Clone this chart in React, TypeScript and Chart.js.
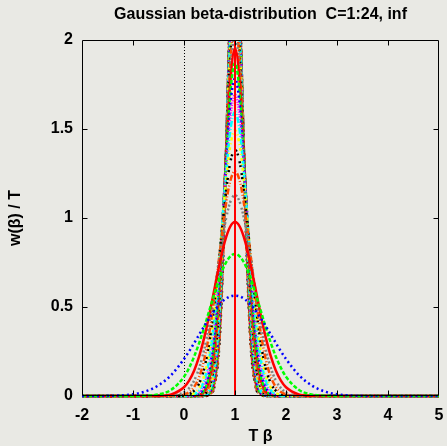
import React, { useEffect, useRef } from "react";
import { Chart, registerables } from "chart.js";

Chart.register(...registerables);

// ---------------- data ----------------
const TITLE = "Gaussian beta-distribution  C=1:24, inf";
const X_TITLE = "T β";
const Y_TITLE = "w(β) / T";
const X_MIN = -2;
const X_MAX = 5;
const Y_MIN = 0;
const Y_MAX = 2;
const X_TICK_VALUES = [-2, -1, 0, 1, 2, 3, 4, 5];
const Y_TICK_VALUES = [0, 0.5, 1, 1.5, 2];
const ZERO_LINE_X = 0;

// sample positions (T beta)
const betaT = [-2, -1.5, -1, -0.75, -0.5, -0.25, 0, 0.1, 0.2, 0.3, 0.4, 0.5, 0.6, 0.7, 0.8, 0.9, 1, 1.1, 1.2, 1.3, 1.4, 1.5, 1.6, 1.7, 1.8, 1.9, 2, 2.25, 2.5, 2.75, 3, 3.5, 4, 5];

// w(beta)/T for C = 1 ... 24
const w_C1 = [0, 0.001, 0.010, 0.026, 0.060, 0.118, 0.208, 0.251, 0.298, 0.346, 0.394, 0.439, 0.481, 0.516, 0.542, 0.559, 0.564, 0.559, 0.542, 0.516, 0.481, 0.439, 0.394, 0.346, 0.298, 0.251, 0.208, 0.118, 0.060, 0.026, 0.010, 0.001, 0, 0];
const w_C2 = [0, 0, 0, 0.002, 0.009, 0.035, 0.108, 0.158, 0.222, 0.300, 0.388, 0.484, 0.579, 0.667, 0.737, 0.782, 0.798, 0.782, 0.737, 0.667, 0.579, 0.484, 0.388, 0.300, 0.222, 0.158, 0.108, 0.035, 0.009, 0.002, 0, 0, 0, 0];
const w_C3 = [0, 0, 0, 0, 0.001, 0.009, 0.049, 0.086, 0.143, 0.225, 0.332, 0.462, 0.605, 0.746, 0.867, 0.948, 0.977, 0.948, 0.867, 0.746, 0.605, 0.462, 0.332, 0.225, 0.143, 0.086, 0.049, 0.009, 0.001, 0, 0, 0, 0, 0];
const w_C4 = [0, 0, 0, 0, 0, 0.002, 0.021, 0.044, 0.087, 0.159, 0.267, 0.415, 0.595, 0.787, 0.962, 1.084, 1.128, 1.084, 0.962, 0.787, 0.595, 0.415, 0.267, 0.159, 0.087, 0.044, 0.021, 0.002, 0, 0, 0, 0, 0, 0];
const w_C5 = [0, 0, 0, 0, 0, 0.001, 0.009, 0.022, 0.051, 0.109, 0.209, 0.362, 0.567, 0.804, 1.033, 1.200, 1.262, 1.200, 1.033, 0.804, 0.567, 0.362, 0.209, 0.109, 0.051, 0.022, 0.009, 0.001, 0, 0, 0, 0, 0, 0];
const w_C6 = [0, 0, 0, 0, 0, 0, 0.003, 0.011, 0.030, 0.073, 0.159, 0.308, 0.529, 0.805, 1.087, 1.302, 1.382, 1.302, 1.087, 0.805, 0.529, 0.308, 0.159, 0.073, 0.030, 0.011, 0.003, 0, 0, 0, 0, 0, 0, 0];
const w_C7 = [0, 0, 0, 0, 0, 0, 0.001, 0.005, 0.017, 0.048, 0.120, 0.259, 0.487, 0.795, 1.128, 1.392, 1.493, 1.392, 1.128, 0.795, 0.487, 0.259, 0.120, 0.048, 0.017, 0.005, 0.001, 0, 0, 0, 0, 0, 0, 0];
const w_C8 = [0, 0, 0, 0, 0, 0, 0, 0.002, 0.010, 0.032, 0.090, 0.216, 0.444, 0.777, 1.159, 1.473, 1.596, 1.473, 1.159, 0.777, 0.444, 0.216, 0.090, 0.032, 0.010, 0.002, 0, 0, 0, 0, 0, 0, 0, 0];
const w_C9 = [0, 0, 0, 0, 0, 0, 0, 0.001, 0.005, 0.021, 0.066, 0.178, 0.401, 0.753, 1.181, 1.547, 1.693, 1.547, 1.181, 0.753, 0.401, 0.178, 0.066, 0.021, 0.005, 0.001, 0, 0, 0, 0, 0, 0, 0, 0];
const w_C10 = [0, 0, 0, 0, 0, 0, 0, 0, 0.003, 0.013, 0.049, 0.146, 0.360, 0.725, 1.196, 1.614, 1.784, 1.614, 1.196, 0.725, 0.360, 0.146, 0.049, 0.013, 0.003, 0, 0, 0, 0, 0, 0, 0, 0, 0];
const w_C11 = [0, 0, 0, 0, 0, 0, 0, 0, 0.002, 0.009, 0.036, 0.120, 0.322, 0.695, 1.205, 1.676, 1.871, 1.676, 1.205, 0.695, 0.322, 0.120, 0.036, 0.009, 0.002, 0, 0, 0, 0, 0, 0, 0, 0, 0];
const w_C12 = [0, 0, 0, 0, 0, 0, 0, 0, 0.001, 0.006, 0.026, 0.097, 0.287, 0.664, 1.209, 1.733, 1.954, 1.733, 1.209, 0.664, 0.287, 0.097, 0.026, 0.006, 0.001, 0, 0, 0, 0, 0, 0, 0, 0, 0];
const w_C13 = [0, 0, 0, 0, 0, 0, 0, 0, 0, 0.004, 0.019, 0.079, 0.254, 0.631, 1.209, 1.786, 2.034, 1.786, 1.209, 0.631, 0.254, 0.079, 0.019, 0.004, 0, 0, 0, 0, 0, 0, 0, 0, 0, 0];
const w_C14 = [0, 0, 0, 0, 0, 0, 0, 0, 0, 0.002, 0.014, 0.064, 0.225, 0.599, 1.206, 1.835, 2.111, 1.835, 1.206, 0.599, 0.225, 0.064, 0.014, 0.002, 0, 0, 0, 0, 0, 0, 0, 0, 0, 0];
const w_C15 = [0, 0, 0, 0, 0, 0, 0, 0, 0, 0.001, 0.010, 0.051, 0.198, 0.567, 1.199, 1.881, 2.185, 1.881, 1.199, 0.567, 0.198, 0.051, 0.010, 0.001, 0, 0, 0, 0, 0, 0, 0, 0, 0, 0];
const w_C16 = [0, 0, 0, 0, 0, 0, 0, 0, 0, 0.001, 0.007, 0.041, 0.174, 0.535, 1.190, 1.923, 2.257, 1.923, 1.190, 0.535, 0.174, 0.041, 0.007, 0.001, 0, 0, 0, 0, 0, 0, 0, 0, 0, 0];
const w_C17 = [0, 0, 0, 0, 0, 0, 0, 0, 0, 0.001, 0.005, 0.033, 0.153, 0.504, 1.179, 1.963, 2.326, 1.963, 1.179, 0.504, 0.153, 0.033, 0.005, 0.001, 0, 0, 0, 0, 0, 0, 0, 0, 0, 0];
const w_C18 = [0, 0, 0, 0, 0, 0, 0, 0, 0, 0, 0.004, 0.027, 0.134, 0.474, 1.165, 1.999, 2.394, 1.999, 1.165, 0.474, 0.134, 0.027, 0.004, 0, 0, 0, 0, 0, 0, 0, 0, 0, 0, 0];
const w_C19 = [0, 0, 0, 0, 0, 0, 0, 0, 0, 0, 0.003, 0.021, 0.118, 0.445, 1.150, 2.034, 2.459, 2.034, 1.150, 0.445, 0.118, 0.021, 0.003, 0, 0, 0, 0, 0, 0, 0, 0, 0, 0, 0];
const w_C20 = [0, 0, 0, 0, 0, 0, 0, 0, 0, 0, 0.002, 0.017, 0.103, 0.417, 1.134, 2.066, 2.523, 2.066, 1.134, 0.417, 0.103, 0.017, 0.002, 0, 0, 0, 0, 0, 0, 0, 0, 0, 0, 0];
const w_C21 = [0, 0, 0, 0, 0, 0, 0, 0, 0, 0, 0.001, 0.014, 0.090, 0.391, 1.116, 2.096, 2.585, 2.096, 1.116, 0.391, 0.090, 0.014, 0.001, 0, 0, 0, 0, 0, 0, 0, 0, 0, 0, 0];
const w_C22 = [0, 0, 0, 0, 0, 0, 0, 0, 0, 0, 0.001, 0.011, 0.078, 0.365, 1.098, 2.124, 2.646, 2.124, 1.098, 0.365, 0.078, 0.011, 0.001, 0, 0, 0, 0, 0, 0, 0, 0, 0, 0, 0];
const w_C23 = [0, 0, 0, 0, 0, 0, 0, 0, 0, 0, 0.001, 0.009, 0.068, 0.341, 1.078, 2.150, 2.706, 2.150, 1.078, 0.341, 0.068, 0.009, 0.001, 0, 0, 0, 0, 0, 0, 0, 0, 0, 0, 0];
const w_C24 = [0, 0, 0, 0, 0, 0, 0, 0, 0, 0, 0, 0.007, 0.059, 0.319, 1.058, 2.174, 2.764, 2.174, 1.058, 0.319, 0.059, 0.007, 0, 0, 0, 0, 0, 0, 0, 0, 0, 0, 0, 0];

const C_VALUES = [1, 2, 3, 4, 5, 6, 7, 8, 9, 10, 11, 12, 13, 14, 15, 16, 17, 18, 19, 20, 21, 22, 23, 24];
const SERIES = [w_C1, w_C2, w_C3, w_C4, w_C5, w_C6, w_C7, w_C8, w_C9, w_C10, w_C11, w_C12, w_C13, w_C14, w_C15, w_C16, w_C17, w_C18, w_C19, w_C20, w_C21, w_C22, w_C23, w_C24];

// C = inf : delta peak at T beta = 1
const INF_X = [1, 1];
const INF_Y = [0, 2];

// ---------------- styles ----------------
const BG = "#e9e9e4";
const FONT = "'Liberation Sans', Arial, Helvetica, sans-serif";
const PALETTE = ["#ff0000", "#00ff00", "#0000ff", "#ff00ff", "#00ffff", "#ffff00", "#000000", "#ff4d00", "#808080"];
const DASHES = [[], [4, 2], [2, 3], [1, 1.5], [6, 2, 1, 2], [3, 3, 1, 3], [2, 2, 2, 6], [1, 2, 6, 2, 1, 2], [2, 2, 2, 2, 2, 2, 2, 4]];

const framePlugin = {
  id: "gnuFrame",
  beforeDraw(chart: any) {
    const { ctx, width, height } = chart;
    ctx.save();
    ctx.fillStyle = BG;
    ctx.fillRect(0, 0, width, height);
    ctx.restore();
  },
  beforeDatasetsDraw(chart: any) {
    const { ctx, chartArea, scales } = chart;
    const x = Math.round(scales.x.getPixelForValue(ZERO_LINE_X)) + 0.5;
    ctx.save();
    ctx.strokeStyle = "#000";
    ctx.lineWidth = 1;
    ctx.setLineDash([1, 2]);
    ctx.beginPath();
    ctx.moveTo(x, chartArea.bottom);
    ctx.lineTo(x, chartArea.top);
    ctx.stroke();
    ctx.restore();
  },
  afterDatasetsDraw(chart: any) {
    const { ctx, chartArea, scales } = chart;
    const l = Math.round(chartArea.left) + 0.5;
    const r = Math.round(chartArea.right) - 0.5;
    const t = Math.round(chartArea.top) + 0.5;
    const b = Math.round(chartArea.bottom) - 0.5;
    const TL = 5;
    ctx.save();
    ctx.strokeStyle = "#000";
    ctx.lineWidth = 1;
    ctx.setLineDash([]);
    ctx.beginPath();
    ctx.rect(l, t, r - l, b - t);
    for (const v of X_TICK_VALUES) {
      if (v === X_MIN || v === X_MAX) continue;
      const px = Math.round(scales.x.getPixelForValue(v)) + 0.5;
      ctx.moveTo(px, b);
      ctx.lineTo(px, b - TL);
      ctx.moveTo(px, t);
      ctx.lineTo(px, t + TL);
    }
    for (const v of Y_TICK_VALUES) {
      if (v === Y_MIN || v === Y_MAX) continue;
      const py = Math.round(scales.y.getPixelForValue(v)) + 0.5;
      ctx.moveTo(l, py);
      ctx.lineTo(l + TL, py);
      ctx.moveTo(r, py);
      ctx.lineTo(r - TL, py);
    }
    ctx.stroke();
    ctx.restore();
  },
};

export default function App() {
  const ref = useRef<HTMLCanvasElement | null>(null);

  useEffect(() => {
    document.body.style.margin = "0";
    document.body.style.background = BG;
    const canvas = ref.current;
    if (!canvas) return;

    const curveSets = SERIES.map((ys, i) => {
      const C = C_VALUES[i];
      const s = (((12 - C) % 9) + 9) % 9;
      return {
        label: `C=${C}`,
        data: betaT.map((x, j) => ({ x, y: ys[j] })),
        borderColor: PALETTE[s],
        backgroundColor: PALETTE[s],
        borderDash: DASHES[s],
        borderWidth: 2.5,
        borderCapStyle: "butt",
        pointRadius: 0,
        cubicInterpolationMode: "monotone",
        fill: false,
        clip: { left: 0, right: 0, top: 0, bottom: 3 },
      };
    });
    const infSet = {
      label: "C=inf",
      data: INF_X.map((x, j) => ({ x, y: INF_Y[j] })),
      borderColor: PALETTE[0],
      backgroundColor: PALETTE[0],
      borderWidth: 2,
      pointRadius: 0,
      fill: false,
      clip: { left: 0, right: 0, top: 0, bottom: 3 },
    };

    const bold16 = { family: FONT, size: 16, weight: "bold" as const };

    // index 0 is drawn last (on top): inf, then C=1 ... C=24 underneath
    const chart = new Chart(canvas, {
      type: "line",
      data: { datasets: [infSet, ...curveSets] as any },
      options: {
        animation: false,
        responsive: false,
        devicePixelRatio: 1,
        events: [],
        layout: { padding: { left: 0, right: 8, top: 0, bottom: 0 } },
        plugins: {
          legend: { display: false },
          tooltip: { enabled: false },
          title: {
            display: true,
            text: TITLE,
            color: "#000",
            fullSize: false,
            font: bold16,
            padding: { top: 5.4, bottom: 15.4 },
          },
        },
        scales: {
          x: {
            type: "linear",
            min: X_MIN,
            max: X_MAX,
            afterFit: (scale: any) => {
              scale.height = 50;
              scale.paddingLeft = 0;
              scale.paddingRight = 0;
            },
            afterBuildTicks: (scale: any) => {
              scale.ticks = X_TICK_VALUES.map((v) => ({ value: v }));
            },
            grid: { display: false, drawTicks: false },
            border: { display: false },
            ticks: { color: "#000", font: bold16, padding: 10, maxRotation: 0, autoSkip: false, callback: (v: any) => String(v) },
            title: {
              display: true,
              text: X_TITLE,
              color: "#000",
              font: bold16,
              padding: { top: 0, bottom: 0 },
            },
          },
          y: {
            type: "linear",
            min: Y_MIN,
            max: Y_MAX,
            afterFit: (scale: any) => {
              scale.width = 82;
              scale.paddingTop = 0;
              scale.paddingBottom = 0;
            },
            afterBuildTicks: (scale: any) => {
              scale.ticks = Y_TICK_VALUES.map((v) => ({ value: v }));
            },
            grid: { display: false, drawTicks: false },
            border: { display: false },
            ticks: { color: "#000", font: bold16, padding: 9, autoSkip: false, callback: (v: any) => String(v) },
            title: {
              display: true,
              text: Y_TITLE,
              color: "#000",
              font: bold16,
              padding: { top: 6.4, bottom: 0 },
            },
          },
        },
      },
      plugins: [framePlugin],
    });

    return () => chart.destroy();
  }, []);

  return (
    <canvas
      ref={ref}
      width={447}
      height={446}
      style={{ display: "block", width: 447, height: 446, background: BG }}
    />
  );
}
